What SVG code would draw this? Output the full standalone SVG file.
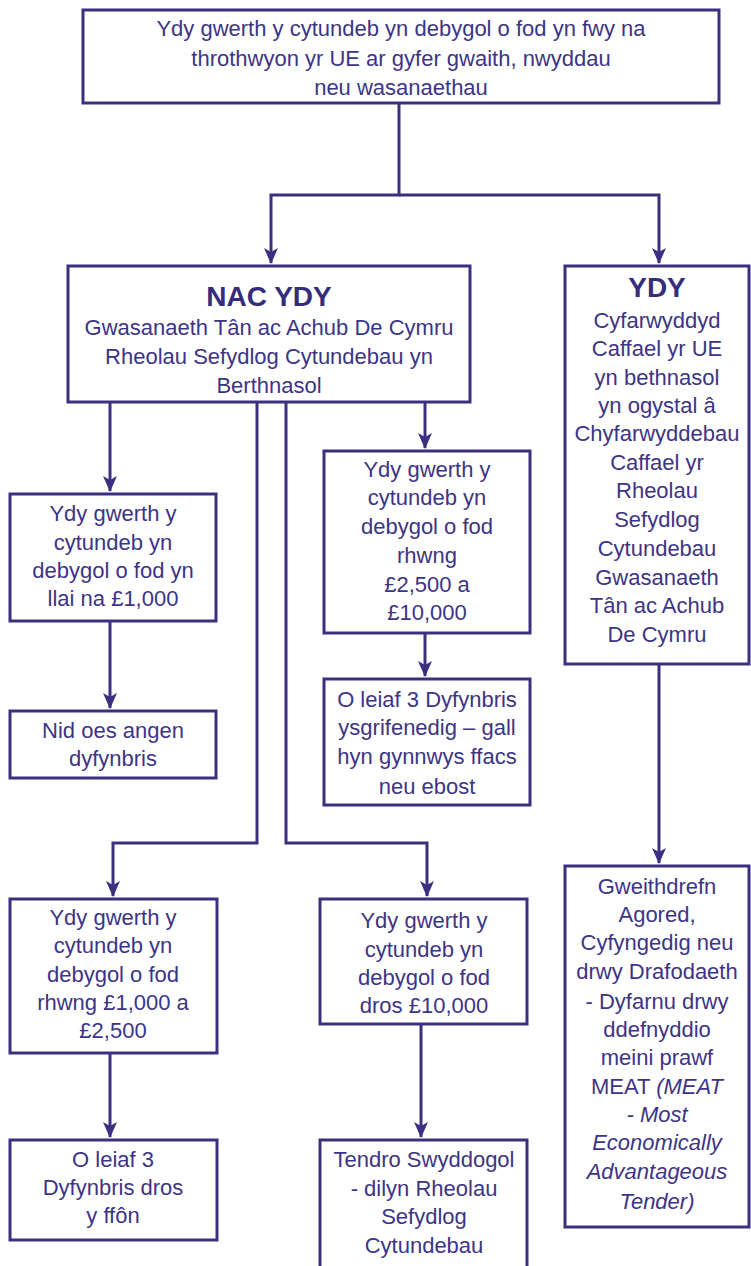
<svg xmlns="http://www.w3.org/2000/svg" width="751" height="1266" viewBox="0 0 751 1266">
<style>
.box{fill:#fff;stroke:#3b3080;stroke-width:3}
.t{font-family:"Liberation Sans",Arial,sans-serif;font-size:22px;fill:#3d3486;text-anchor:middle}
.b{font-weight:bold;font-size:28px;fill:#362c7c}
.i{font-style:italic}
.c{fill:none;stroke:#3b3080;stroke-width:3}
</style>
<defs>
<marker id="ah" viewBox="0 0 16 14" refX="15" refY="7" markerWidth="16" markerHeight="14" markerUnits="userSpaceOnUse" orient="auto">
<path d="M0,0 L16,7 L0,14 L4,7 z" fill="#3b3080"/>
</marker>
</defs>
<rect width="751" height="1266" fill="#fff"/>
<g id="connectors">
<path class="c" d="M399,104 V195 H271 V263" marker-end="url(#ah)"/>
<path class="c" d="M399,195 H659 V263" marker-end="url(#ah)"/>
<path class="c" d="M110,403 V491" marker-end="url(#ah)"/>
<path class="c" d="M425,403 V448" marker-end="url(#ah)"/>
<path class="c" d="M110,622 V708" marker-end="url(#ah)"/>
<path class="c" d="M425,634 V676" marker-end="url(#ah)"/>
<path class="c" d="M257,403 V843 H113 V896" marker-end="url(#ah)"/>
<path class="c" d="M286,403 V843 H427 V896" marker-end="url(#ah)"/>
<path class="c" d="M110,1054 V1137" marker-end="url(#ah)"/>
<path class="c" d="M421,1025 V1137" marker-end="url(#ah)"/>
<path class="c" d="M659,665 V863" marker-end="url(#ah)"/>
</g>
<g id="n-top">
<rect class="box" x="83" y="10" width="636" height="93"/>
<text class="t" x="401" y="36">Ydy gwerth y cytundeb yn debygol o fod yn fwy na</text>
<text class="t" x="401" y="66">throthwyon yr UE ar gyfer gwaith, nwyddau</text>
<text class="t" x="401" y="95">neu wasanaethau</text>
</g>
<g id="n-nac">
<rect class="box" x="68" y="266" width="402" height="136"/>
<text class="t b" x="269" y="306">NAC YDY</text>
<text class="t" x="269" y="335">Gwasanaeth Tân ac Achub De Cymru</text>
<text class="t" x="269" y="364">Rheolau Sefydlog Cytundebau yn</text>
<text class="t" x="269" y="393">Berthnasol</text>
</g>
<g id="n-ydy">
<rect class="box" x="565" y="266" width="184" height="398"/>
<text class="t b" x="657" y="297">YDY</text>
<text class="t" x="657" y="328">Cyfarwyddyd</text>
<text class="t" x="657" y="356">Caffael yr UE</text>
<text class="t" x="657" y="385">yn bethnasol</text>
<text class="t" x="657" y="413">yn ogystal â</text>
<text class="t" x="657" y="441">Chyfarwyddebau</text>
<text class="t" x="657" y="470">Caffael yr</text>
<text class="t" x="657" y="498">Rheolau</text>
<text class="t" x="657" y="527">Sefydlog</text>
<text class="t" x="657" y="556">Cytundebau</text>
<text class="t" x="657" y="585">Gwasanaeth</text>
<text class="t" x="657" y="613">Tân ac Achub</text>
<text class="t" x="657" y="642">De Cymru</text>
</g>
<g id="n-lt1000">
<rect class="box" x="10" y="494" width="206" height="127"/>
<text class="t" x="113" y="521">Ydy gwerth y</text>
<text class="t" x="113" y="550">cytundeb yn</text>
<text class="t" x="113" y="578">debygol o fod yn</text>
<text class="t" x="113" y="606">llai na £1,000</text>
</g>
<g id="n-noquote">
<rect class="box" x="10" y="711" width="206" height="67"/>
<text class="t" x="113" y="738">Nid oes angen</text>
<text class="t" x="113" y="766">dyfynbris</text>
</g>
<g id="n-2500-10000">
<rect class="box" x="324" y="451" width="206" height="182"/>
<text class="t" x="427" y="477">Ydy gwerth y</text>
<text class="t" x="427" y="505">cytundeb yn</text>
<text class="t" x="427" y="534">debygol o fod</text>
<text class="t" x="427" y="563">rhwng</text>
<text class="t" x="427" y="592">£2,500 a</text>
<text class="t" x="427" y="620">£10,000</text>
</g>
<g id="n-written">
<rect class="box" x="324" y="679" width="206" height="126"/>
<text class="t" x="427" y="707">O leiaf 3 Dyfynbris</text>
<text class="t" x="427" y="735">ysgrifenedig – gall</text>
<text class="t" x="427" y="764">hyn gynnwys ffacs</text>
<text class="t" x="427" y="794">neu ebost</text>
</g>
<g id="n-1000-2500">
<rect class="box" x="10" y="899" width="207" height="154"/>
<text class="t" x="113" y="925">Ydy gwerth y</text>
<text class="t" x="113" y="953">cytundeb yn</text>
<text class="t" x="113" y="982">debygol o fod</text>
<text class="t" x="113" y="1010">rhwng £1,000 a</text>
<text class="t" x="113" y="1038">£2,500</text>
</g>
<g id="n-over10000">
<rect class="box" x="320" y="899" width="207" height="125"/>
<text class="t" x="424" y="928">Ydy gwerth y</text>
<text class="t" x="424" y="957">cytundeb yn</text>
<text class="t" x="424" y="985">debygol o fod</text>
<text class="t" x="424" y="1013">dros £10,000</text>
</g>
<g id="n-phone">
<rect class="box" x="10" y="1140" width="207" height="100"/>
<text class="t" x="113" y="1167">O leiaf 3</text>
<text class="t" x="113" y="1195">Dyfynbris dros</text>
<text class="t" x="113" y="1223">y ffôn</text>
</g>
<g id="n-tender">
<rect class="box" x="320" y="1140" width="207" height="140"/>
<text class="t" x="424" y="1167">Tendro Swyddogol</text>
<text class="t" x="424" y="1196">- dilyn Rheolau</text>
<text class="t" x="424" y="1224">Sefydlog</text>
<text class="t" x="424" y="1253">Cytundebau</text>
</g>
<g id="n-meat">
<rect class="box" x="565" y="866" width="184" height="361"/>
<text class="t" x="657" y="894">Gweithdrefn</text>
<text class="t" x="657" y="922">Agored,</text>
<text class="t" x="657" y="950">Cyfyngedig neu</text>
<text class="t" x="657" y="979">drwy Drafodaeth</text>
<text class="t" x="657" y="1009">- Dyfarnu drwy</text>
<text class="t" x="657" y="1037">ddefnyddio</text>
<text class="t" x="657" y="1065">meini prawf</text>
<text class="t" x="657" y="1094">MEAT <tspan class="i">(MEAT</tspan></text>
<text class="t i" x="657" y="1122">- Most</text>
<text class="t i" x="657" y="1150">Economically</text>
<text class="t i" x="657" y="1179">Advantageous</text>
<text class="t i" x="657" y="1209">Tender)</text>
</g>
</svg>
